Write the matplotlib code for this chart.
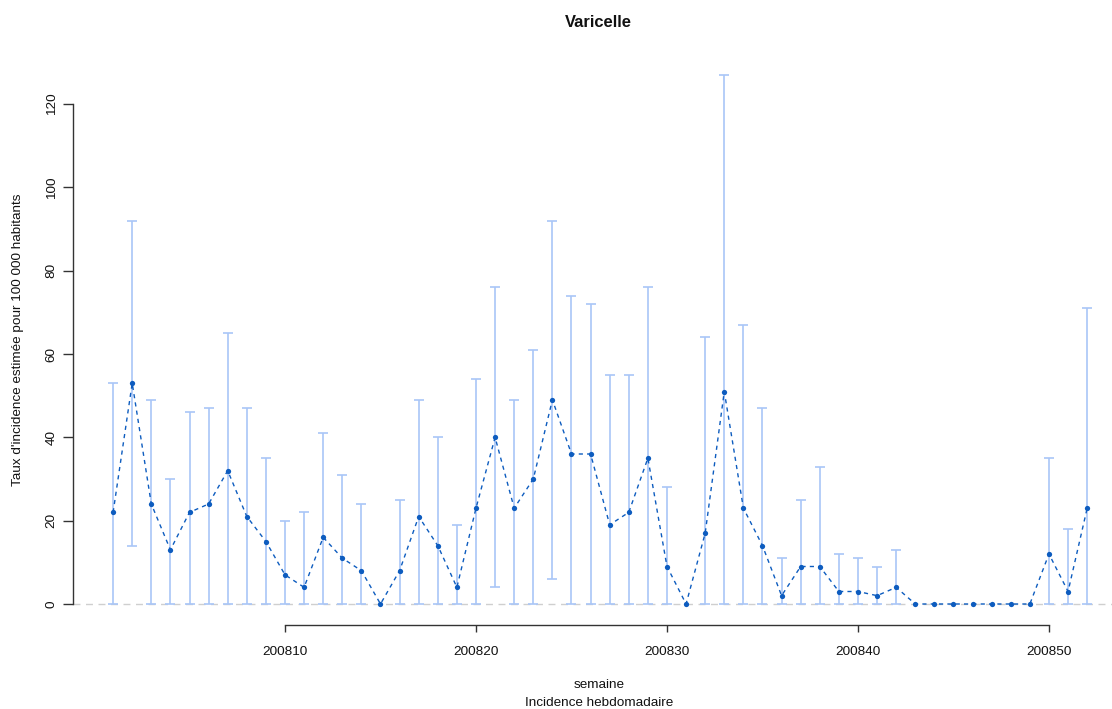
import numpy as np
from matplotlib import pyplot as plt

# semaines 2008 (code AAAASS)
semaines = list(range(200801, 200853))

# taux d'incidence estime pour 100 000 habitants
taux = [22, 53, 24, 13, 22, 24, 32, 21, 15, 7,
        4, 16, 11, 8, 0, 8, 21, 14, 4, 23,
        40, 23, 30, 49, 36, 36, 19, 22, 35, 9,
        0, 17, 51, 23, 14, 2, 9, 9, 3, 3,
        2, 4, 0, 0, 0, 0, 0, 0, 0, 12,
        3, 23]

# intervalle de confiance (bornes inf / sup)
borne_inf = [0, 14, 0, 0, 0, 0, 0, 0, 0, 0,
             0, 0, 0, 0, 0, 0, 0, 0, 0, 0,
             4, 0, 0, 6, 0, 0, 0, 0, 0, 0,
             0, 0, 0, 0, 0, 0, 0, 0, 0, 0,
             0, 0, 0, 0, 0, 0, 0, 0, 0, 0,
             0, 0]
borne_sup = [53, 92, 49, 30, 46, 47, 65, 47, 35, 20,
             22, 41, 31, 24, 0, 25, 49, 40, 19, 54,
             76, 49, 61, 92, 74, 72, 55, 55, 76, 28,
             0, 64, 127, 67, 47, 11, 25, 33, 12, 11,
             9, 13, 0, 0, 0, 0, 0, 0, 0, 35,
             18, 71]

ticks_x = [200810, 200820, 200830, 200840, 200850]
ticks_y = [0, 20, 40, 60, 80, 100, 120]

plt.rcParams['font.family'] = ['Liberation Sans', 'DejaVu Sans']

W, H = 1112, 709
fig = plt.figure(figsize=(W / 100, H / 100), dpi=100)
ax = fig.add_axes([73 / W, (H - 625) / H, (W - 73) / W, (625 - 54) / H])

x = np.array(semaines)
y = np.array(taux)
lo = np.array(borne_inf)
hi = np.array(borne_sup)

# ligne de base en pointilles
ax.axhline(0, color='#cfcfcf', linestyle=(0, (5, 4)), linewidth=1, zorder=1)

# barres d'erreur (pas de barre quand l'intervalle est nul)
ok = hi > lo
ax.errorbar(x[ok], y[ok], yerr=[y[ok] - lo[ok], hi[ok] - y[ok]], fmt='none',
            ecolor='#a9c6f7', elinewidth=1.2, capsize=3.6, capthick=1.2, zorder=2)

# serie
ax.plot(x, y, color='#0d5cbf', linestyle=(0, (3, 3)), linewidth=1,
        marker='o', markersize=3.8, markeredgewidth=0, zorder=3)

ax.set_xlim(200800 - 1.1, 200800 + 53.3)
ax.set_ylim(-5.04, 132)

for s in ['top', 'right']:
    ax.spines[s].set_visible(False)
ax.spines['left'].set_bounds(0, 120)
ax.spines['bottom'].set_bounds(200810, 200850)
for s in ['left', 'bottom']:
    ax.spines[s].set_color('#333333')
    ax.spines[s].set_linewidth(1)

ax.set_xticks(ticks_x)
ax.set_xticklabels([str(t) for t in ticks_x])
ax.set_yticks(ticks_y)
ax.set_yticklabels([str(t) for t in ticks_y], rotation=90, va='center')
ax.tick_params(axis='x', direction='out', length=5, width=1, color='#333333',
               pad=10, labelsize=9.7, labelcolor='#111111')
ax.tick_params(axis='y', direction='out', length=7, width=1, color='#333333',
               pad=4, labelsize=9.7, labelcolor='#111111')

# titres
fig.text(598 / W, 1 - 22.5 / H, 'Varicelle', ha='center', va='center',
         fontsize=11.9, fontweight='bold', color='#111111')
fig.text(599 / W, 1 - 685 / H, 'semaine', ha='center', va='center',
         fontsize=9.7, color='#111111')
fig.text(599 / W, 1 - 703 / H, 'Incidence hebdomadaire', ha='center', va='center',
         fontsize=9.7, color='#111111')
fig.text(18 / W, 1 - 340 / H, "Taux d'incidence estimée pour 100 000 habitants",
         ha='center', va='center', rotation=90, fontsize=9.7, color='#111111')

fig.savefig('out.png', dpi=100)
